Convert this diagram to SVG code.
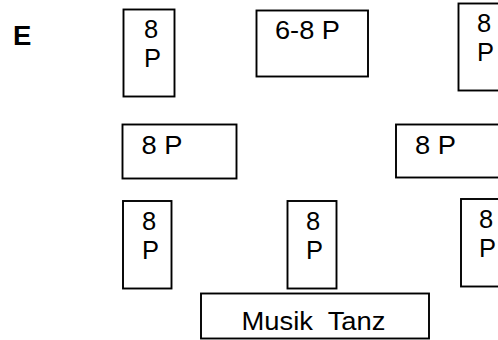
<svg xmlns="http://www.w3.org/2000/svg" width="498" height="340" viewBox="0 0 498 340">
<style>
rect.t{fill:#fff;stroke:#000;stroke-width:1.9}
text{font-family:"Liberation Sans",Arial,sans-serif;font-size:25.5px;fill:#000;white-space:pre}
text.e{font-weight:bold;font-size:27.5px}
</style>
<rect width="498" height="340" fill="#fff"/>
<text class="e" x="13" y="45">E</text>
<g id="t1"><rect class="t" x="123.5" y="9.5" width="51" height="87"/><text x="144" y="37.5">8</text><text x="144" y="66.5">P</text></g>
<g id="t2"><rect class="t" x="256.5" y="10.5" width="111.5" height="66"/><text x="275" y="38.5" textLength="65" lengthAdjust="spacingAndGlyphs">6-8 P</text></g>
<g id="t3"><rect class="t" x="458.5" y="3.5" width="50" height="87"/><text x="477" y="32">8</text><text x="477" y="61">P</text></g>
<g id="t4"><rect class="t" x="122.5" y="124.5" width="114" height="54"/><text x="141.5" y="153.5" textLength="41" lengthAdjust="spacingAndGlyphs">8 P</text></g>
<g id="t5"><rect class="t" x="396" y="124.5" width="120" height="53"/><text x="415" y="153.5" textLength="41" lengthAdjust="spacingAndGlyphs">8 P</text></g>
<g id="t6"><rect class="t" x="123" y="201" width="48.5" height="87.5"/><text x="142" y="229.5">8</text><text x="142" y="258.5">P</text></g>
<g id="t7"><rect class="t" x="287.5" y="201" width="49" height="87.5"/><text x="306" y="229.5">8</text><text x="306" y="258.5">P</text></g>
<g id="t8"><rect class="t" x="461" y="199" width="50" height="87.5"/><text x="479" y="227.5">8</text><text x="479" y="256.5">P</text></g>
<g id="stage"><rect class="t" x="201" y="293.5" width="228" height="45"/><text x="241.5" y="329.5" textLength="144" lengthAdjust="spacingAndGlyphs">Musik  Tanz</text></g>
<g id="connectors"/>
</svg>
